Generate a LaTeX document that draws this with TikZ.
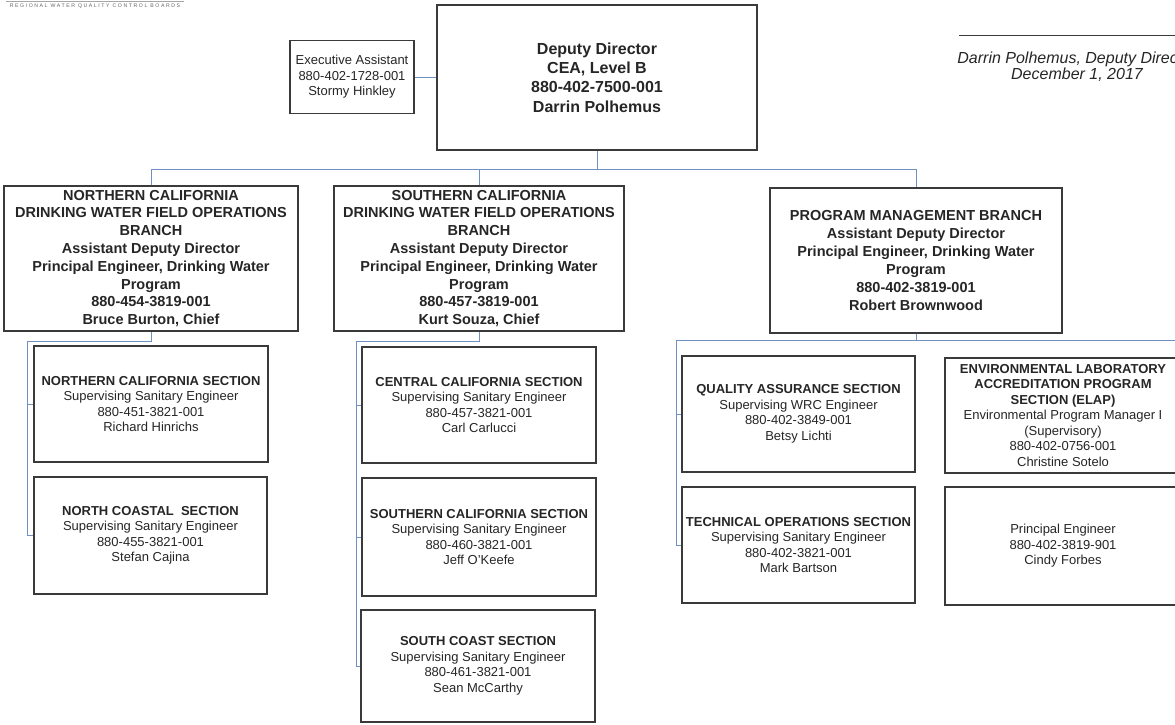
\documentclass[tikz,border=0pt]{standalone}
\usepackage{fontspec}
\setmainfont{Liberation Sans}
\definecolor{boxline}{HTML}{3A3A3A}
\definecolor{connc}{HTML}{7090C4}
\definecolor{ink}{HTML}{262626}
\begin{document}
\begin{tikzpicture}[x=1pt,y=-1pt,
  box/.style={draw=boxline,line width=1.3pt,inner sep=0pt,align=center,text=ink},
  sect/.style={box,font=\fontsize{13}{15.5}\selectfont},
  branch/.style={box,font=\bfseries\fontsize{14.5}{17.8}\selectfont,minimum height=145pt},
  link/.style={draw=connc,line width=0.9pt},
]
\useasboundingbox (0,0) rectangle (1175,724);
\clip (0,0) rectangle (1175,724);
\fill[white] (0,0) rectangle (1175,724);

% logo remnant
\draw[gray!70,line width=1pt] (6,1) -- (184,1);
\node[text=gray!80!black,font=\fontsize{5.2}{6}\selectfont\addfontfeatures{LetterSpace=30},inner sep=0pt] (logo) at (95,6.5) {REGIONAL WATER QUALITY CONTROL BOARDS};

% signature block
\draw[boxline,line width=0.9pt] (959,35) -- (1195,35);
\node[align=center,text=ink,font=\itshape\fontsize{16}{16.5}\selectfont,inner sep=0pt] (sig) at (1077,66.5) {Darrin Polhemus, Deputy Director\\December 1, 2017};

% top
\node[box,font=\bfseries\fontsize{16}{19.3}\selectfont,minimum width=320pt,minimum height=145pt] (DD) at (597,77.5) {Deputy Director\\CEA, Level B\\880-402-7500-001\\Darrin Polhemus};
\node[sect,minimum width=124pt,minimum height=73pt] (EA) at (352,77) {Executive Assistant\\880-402-1728-001\\Stormy Hinkley};

% branches
\node[branch,minimum width=294pt] (NB) at (151,258.5) {NORTHERN CALIFORNIA\\DRINKING WATER FIELD OPERATIONS\\BRANCH\\Assistant Deputy Director\\Principal Engineer, Drinking Water\\Program\\880-454-3819-001\\Bruce Burton, Chief};
\node[branch,minimum width=290pt] (SB) at (479,258.5) {SOUTHERN CALIFORNIA\\DRINKING WATER FIELD OPERATIONS\\BRANCH\\Assistant Deputy Director\\Principal Engineer, Drinking Water\\Program\\880-457-3819-001\\Kurt Souza, Chief};
\node[branch,minimum width=292pt] (PB) at (916,260.5) {PROGRAM MANAGEMENT BRANCH\\Assistant Deputy Director\\Principal Engineer, Drinking Water\\Program\\880-402-3819-001\\Robert Brownwood};

% northern sections
\node[sect,minimum width=234pt,minimum height=116pt] (NCS) at (151,404) {\textbf{NORTHERN CALIFORNIA SECTION}\\Supervising Sanitary Engineer\\880-451-3821-001\\Richard Hinrichs};
\node[sect,minimum width=233pt,minimum height=117pt] (NCoS) at (150.5,535.5) {\textbf{NORTH COASTAL\ \ SECTION}\\Supervising Sanitary Engineer\\880-455-3821-001\\Stefan Cajina};

% southern sections
\node[sect,minimum width=234pt,minimum height=116pt] (CCS) at (479,405) {\textbf{CENTRAL CALIFORNIA SECTION}\\Supervising Sanitary Engineer\\880-457-3821-001\\Carl Carlucci};
\node[sect,minimum width=234pt,minimum height=118pt] (SCS) at (479,537) {\textbf{SOUTHERN CALIFORNIA SECTION}\\Supervising Sanitary Engineer\\880-460-3821-001\\Jeff O'Keefe};
\node[sect,minimum width=234pt,minimum height=112pt] (SCoS) at (478,666) {\textbf{SOUTH COAST SECTION}\\Supervising Sanitary Engineer\\880-461-3821-001\\Sean McCarthy};

% program management sections
\node[sect,minimum width=233pt,minimum height=116pt] (QA) at (798.5,414) {\textbf{QUALITY ASSURANCE SECTION}\\Supervising WRC Engineer\\880-402-3849-001\\Betsy Lichti};
\node[sect,minimum width=233pt,minimum height=116pt] (TO) at (798.5,545) {\textbf{TECHNICAL OPERATIONS SECTION}\\Supervising Sanitary Engineer\\880-402-3821-001\\Mark Bartson};
\node[sect,minimum width=236pt,minimum height=115pt] (ELAP) at (1063,415.5) {\textbf{ENVIRONMENTAL LABORATORY}\\\textbf{ACCREDITATION PROGRAM}\\\textbf{SECTION (ELAP)}\\Environmental Program Manager I\\(Supervisory)\\880-402-0756-001\\Christine Sotelo};
\node[sect,minimum width=236pt,minimum height=118pt] (PE) at (1063,546) {Principal Engineer\\880-402-3819-901\\Cindy Forbes};

% connectors
\coordinate (bus) at (597,169);
\coordinate (nbus) at (27,341);
\coordinate (sbus) at (356,341);
\coordinate (pbus) at (676,340);
\coordinate (pright) at (1195,340);

\draw[link] (EA.east) -- (EA.east -| DD.west);
\draw[link] (DD.south) -- (bus);
\draw[link] (NB.north) |- (PB.north |- bus) -- (PB.north);
\draw[link] (SB.north) -- (SB.north |- bus);

\draw[link] (NB.south) |- (nbus) |- (NCoS.west);
\draw[link] (nbus |- NCS.west) -- (NCS.west);

\draw[link] (SB.south) |- (sbus) |- (SCoS.west);
\draw[link] (sbus |- CCS.west) -- (CCS.west);
\draw[link] (sbus |- SCS.west) -- (SCS.west);

\draw[link] (PB.south) -- (PB.south |- pbus);
\draw[link] (pright) -- (pbus) |- (TO.west);
\draw[link] (pbus |- QA.west) -- (QA.west);
\end{tikzpicture}
\end{document}
